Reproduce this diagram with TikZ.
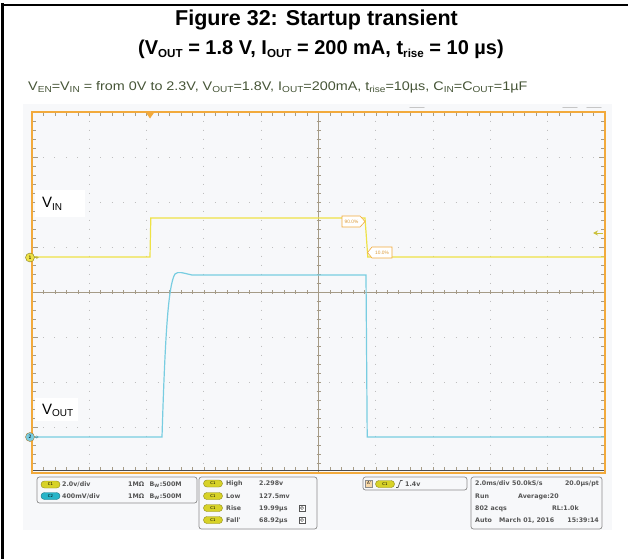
\documentclass[tikz,border=0pt]{standalone}
\usepackage{fontspec}
\setmainfont{Liberation Sans}
\newfontfamily\scopefont{DejaVu Sans}
\usetikzlibrary{arrows.meta}

\definecolor{scopeorange}{RGB}{242,170,60}
\definecolor{screenbg}{RGB}{247,248,250}
\definecolor{dotgray}{RGB}{190,190,190}
\definecolor{axisgray}{RGB}{165,155,135}
\definecolor{vinyellow}{RGB}{238,226,70}
\definecolor{voutcyan}{RGB}{120,205,225}
\definecolor{hdrgreen}{RGB}{70,85,55}
\definecolor{boxgray}{RGB}{140,140,140}
\definecolor{readout}{RGB}{85,85,85}
\definecolor{pillyellow}{RGB}{215,210,40}
\definecolor{pillcyan}{RGB}{40,180,200}

\newcommand{\lowsub}[2][0.7]{\raisebox{-0.15em}{\scalebox{#1}{#2}}}

\begin{document}
\begin{tikzpicture}[x=1pt, y=-1pt,
    dotline/.style={dotgray, line width=1pt},
    axisline/.style={axisgray, line width=0.8pt},
    ticky/.style={axisgray, line width=0.6pt},
    pill/.style={draw=#1!65!black, fill=#1, rounded corners=3.4pt, minimum width=19pt,
      minimum height=7pt, inner sep=0pt, font=\scopefont\fontsize{3.8}{4}\selectfont},
    readbox/.style={draw=boxgray, fill=screenbg, rounded corners=2.5pt, line width=0.7pt},
    readtxt/.style={anchor=base west, inner sep=0pt, text=readout,
      font=\scopefont\bfseries\fontsize{6.3}{7}\selectfont},
    readtxtr/.style={readtxt, anchor=base east},
    tracelbl/.style={fill=white, inner sep=0pt, font=\fontsize{15}{15}\selectfont},
    tagtxt/.style={text=scopeorange!90!black, font=\fontsize{4.8}{5}\selectfont, inner sep=0pt}
  ]

    \useasboundingbox (0,0) rectangle (628,559);

    \draw[line width=3pt] (2.5,3.5) -- (2.5,559);
    \draw[line width=2pt] (1,5) -- (628,5);

    \node[anchor=base, font=\bfseries\fontsize{21.5}{24}\selectfont] (title1) at (316.5,26)
      {Figure 32: Startup transient};
    \node[anchor=base, font=\bfseries\fontsize{20}{24}\selectfont] (title2) at (321,54.5)
      {(V\lowsub[0.58]{OUT} = 1.8 V, I\lowsub[0.58]{OUT} = 200 mA, t\lowsub[0.58]{rise} = 10 µs)};

    \node[anchor=base west, inner sep=0pt, text=hdrgreen, font=\fontsize{12.5}{13}\selectfont] (cond) at (28,90.5)
      {\scalebox{1.15}[1]{V\lowsub{EN}=V\lowsub{IN} = from 0V to 2.3V, V\lowsub{OUT}=1.8V, I\lowsub{OUT}=200mA,
       t\lowsub{rise}=10µs, C\lowsub{IN}=C\lowsub{OUT}=1µF}};

    \fill[screenbg] (23,104) rectangle (612,530);
    \foreach \tx in {410,563,587}
      \draw[boxgray!50, line width=1.2pt, line cap=round] (\tx,107.5) -- ++(14,0);

    \foreach \i in {1,...,9}
      \draw[dotline, dash pattern=on 1pt off 8pt] ({32+57.3*\i},111.5) -- ({32+57.3*\i},472);
    \foreach \j in {1,...,7}
      \draw[dotline, dash pattern=on 1pt off 10.46pt] (31.5,{112+45*\j}) -- (605,{112+45*\j});

    \draw[axisline] (32,292) -- (605,292);
    \draw[axisline] (318.5,112) -- (318.5,472);
    \foreach \k in {1,...,49} {
      \draw[ticky] ({32+11.46*\k},290) -- ++(0,4);
      \draw[ticky] ({32+11.46*\k},113) -- ++(0,3);
      \draw[ticky] ({32+11.46*\k},469.5) -- ++(0,-3);
    }
    \foreach \k in {1,...,39} {
      \draw[ticky] (316.5,{112+9*\k}) -- ++(4,0);
      \draw[ticky] (33,{112+9*\k}) -- ++(3,0);
      \draw[ticky] (604,{112+9*\k}) -- ++(-3,0);
    }
    \foreach \k in {1,...,7} {
      \draw[ticky] (33,{112+45*\k}) -- ++(5,0);
      \draw[ticky] (604,{112+45*\k}) -- ++(-5,0);
    }

    \draw[vinyellow, line width=1.2pt] (33,257) -- (150,257) -- (150.8,218) -- (365,218)
      -- (367.8,257) -- (604,257);
    \draw[voutcyan, line width=1.2pt] (33,437) -- (162,437)
      .. controls (165,340) and (168,285) .. (175,274)
      .. controls (178,271) and (183,273) .. (192,275) -- (366,275) -- (367.2,437) -- (604,437);

    \draw[scopeorange, line width=2pt] (32,112) rectangle (605,472.5);
    \draw[black!70, line width=1.4pt] (33,470.2) -- (604,470.2);
    \fill[scopeorange] (145.5,112) -- (154.5,112) -- (150,118.5) -- cycle;

    \draw[scopeorange, fill=white, line width=0.6pt] (342,216) -- (360,216) -- (365,221.5)
      -- (360,227) -- (342,227) -- cycle;
    \node[tagtxt] (tagninety) at (351.5,221.5) {90.0\%};
    \draw[scopeorange, fill=white, line width=0.6pt] (392,247) -- (372,247) -- (367.5,252.5)
      -- (372,258) -- (392,258) -- cycle;
    \node[tagtxt] (tagten) at (382,252.5) {10.0\%};

    \coordinate (triglvl) at (603,233);
    \draw[vinyellow!85!black, line width=1pt, -{Stealth[length=5pt, width=5pt]}] (triglvl) -- ++(-10,0);

    \node[circle, fill=vinyellow, draw=vinyellow!55!black, minimum size=9pt, inner sep=0pt,
      font=\scopefont\fontsize{4.5}{5}\selectfont] (gndone) at (30,257.5) {1};
    \draw[vinyellow!80!black, line width=0.6pt, -{Stealth[length=2.5pt, width=3pt]}] (gndone.east) -- ++(4,0);
    \node[circle, fill=voutcyan, draw=scopeorange!70!black, minimum size=9pt, inner sep=0pt,
      font=\scopefont\fontsize{4.5}{5}\selectfont] (gndtwo) at (30,437) {2};
    \draw[voutcyan!80!black, line width=0.6pt, -{Stealth[length=2.5pt, width=3pt]}] (gndtwo.east) -- ++(4,0);

    \fill[white] (35,190) rectangle (85,217);
    \node[tracelbl, anchor=base west] (vinlbl) at (42,207)
      {V\raisebox{-3.5pt}{\fontsize{10}{10}\selectfont IN}};
    \fill[white] (35,397.5) rectangle (78,420.5);
    \node[tracelbl, anchor=base west] (voutlbl) at (42,414.3)
      {V\raisebox{-2.5pt}{\fontsize{10}{10}\selectfont OUT}};

    \draw[readbox] (37,477) rectangle (197,503);
    \node[pill=pillyellow] (chone) at (50.5,484.5) {C1};
    \node[readtxt] (chonescale) at (62,486.5) {2.0v/div};
    \node[readtxt] (choneimp) at (128,486.5) {1MΩ \, B\textsubscript{W}:500M};
    \node[pill=pillcyan] (chtwo) at (50.5,496) {C2};
    \node[readtxt] (chtwoscale) at (62,498) {400mV/div};
    \node[readtxt] (chtwoimp) at (128,498) {1MΩ \, B\textsubscript{W}:500M};

    \draw[readbox] (199,477) rectangle (317,529);
    \node[pill=pillyellow] (mhigh) at (213,483.5) {C1};
    \node[readtxt] (mhighname) at (226,485.5) {High};
    \node[readtxt] (mhighval) at (259,485.5) {2.298v};
    \node[pill=pillyellow] (mlow) at (213,496) {C1};
    \node[readtxt] (mlowname) at (226,498) {Low};
    \node[readtxt] (mlowval) at (259,498) {127.5mv};
    \node[pill=pillyellow] (mrise) at (213,508) {C1};
    \node[readtxt] (mrisename) at (226,510) {Rise};
    \node[readtxt] (mriseval) at (259,510) {19.99µs};
    \node[draw=readout, fill=white, minimum size=6.5pt, inner sep=0pt, line width=0.5pt] (riseicon) at (302,508) {};
    \draw[readout, line width=0.5pt] (riseicon.center) circle (1.6pt);
    \node[pill=pillyellow] (mfall) at (213,520) {C1};
    \node[readtxt] (mfallname) at (226,522) {Fall'};
    \node[readtxt] (mfallval) at (259,522) {68.92µs};
    \node[draw=readout, fill=white, minimum size=6.5pt, inner sep=0pt, line width=0.5pt] (fallicon) at (302,520) {};
    \draw[readout, line width=0.5pt] (fallicon.center) circle (1.6pt);

    \draw[readbox] (363,477) rectangle (467,490);
    \node[fill=scopeorange!45, draw=boxgray, minimum size=7pt, inner sep=0pt,
      font=\scopefont\fontsize{4}{4}\selectfont] (trigsrc) at (369,483.5) {A'};
    \node[pill=pillyellow] (trigch) at (385,484) {C1};
    \draw[readout, line width=0.7pt] (396,487.5) -- (398,487.5) -- (400.5,480.5) -- (402.5,480.5);
    \node[readtxt] (triglev) at (405,486) {1.4v};

    \draw[readbox] (471,477) rectangle (602,529);
    \node[readtxt] (tbdiv) at (475,485.5) {2.0ms/div};
    \node[readtxt] (tbrate) at (512,485.5) {50.0kS/s};
    \node[readtxtr] (tbpt) at (599,485.5) {20.0µs/pt};
    \node[readtxt] (tbrun) at (475,498) {Run};
    \node[readtxt] (tbavg) at (518,498) {Average:20};
    \node[readtxt] (tbacq) at (475,510) {802 acqs};
    \node[readtxtr] (tbrl) at (579,510) {RL:1.0k};
    \node[readtxt] (tbauto) at (475,522) {Auto};
    \node[readtxt] (tbdate) at (499,522) {March 01, 2016};
    \node[readtxtr] (tbtime) at (599,522) {15:39:14};

\end{tikzpicture}
\end{document}
